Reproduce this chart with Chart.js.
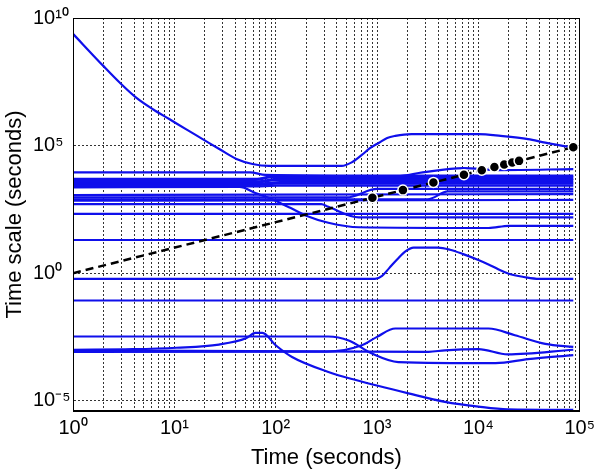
<!DOCTYPE html>
<html><head><meta charset="utf-8">
<script src="https://cdn.jsdelivr.net/npm/chart.js@4.4.1/dist/chart.umd.min.js"></script>
<style>html,body{margin:0;padding:0;background:#fff;}canvas{display:block;}</style>
</head><body>
<canvas id="c" width="600" height="475"></canvas>
<script>
// ---- tick labels ----
const xMajorTicks = [1, 10, 100, 1000, 10000, 100000];
const xTickLabels = ['10\u2070', '10\u00b9', '10\u00b2', '10\u00b3', '10\u2074', '10\u2075'];
const xMinorMultipliers = [2, 3, 4, 5, 6, 7, 8, 9];
const yTickValues = [1e-5, 1, 1e5, 1e10];
const yTickLabels = ['10\u207b\u2075', '10\u2070', '10\u2075', '10\u00b9\u2070'];

// ---- series: [time (s), time scale (s)] ----
const topCurve = [[1,2.4e9],[2,1.3e8],[2.9,2.9e7],[4.2,7.6e6],[6.2,2.6e6],[8.9,1.1e6],[13,4.4e5],[19,1.8e5],[28,7.2e4],[41,3.0e4],[59,1.9e4],[86,1.6e4],[447,1.6e4],[562,2.2e4],[708,4.3e4],[851,7.9e4],[1047,1.3e5],[1259,2.0e5],[1514,2.4e5],[2188,2.8e5],[10000,2.8e5],[16596,2.4e5],[30903,1.8e5],[45709,1.3e5],[75858,9.1e4],[86400,8.5e4]];
const wavyUpper = [[1,8900],[56,8900],[79,7100],[1585,6300],[2818,8900],[7079,13000],[15849,11000],[86400,12000]];
const band1 = [[1,5000],[63,5000],[100,6600],[86400,6600]];
const band2 = [[1,4500],[60,4500],[95,5800],[86400,5800]];
const band3 = [[1,4000],[66,4000],[105,5000],[86400,5000]];
const band4 = [[1,3500],[63,3500],[100,4400],[86400,4400]];
const band5 = [[1,3200],[70,3200],[110,3700],[86400,3700]];
const band6 = [[1,2800],[63,2800],[100,3200],[86400,3200]];
const band7 = [[1,2500],[63,2500],[100,2700],[86400,2700]];
const flat1200 = [[1,1150],[100,1200],[86400,1260]];
const riseA = [[1,930],[501,930],[1000,2000],[86400,2000]];
const riseB = [[1,790],[3162,790],[5012,1600],[86400,1600]];
const flat720 = [[1,690],[200,720],[86400,740]];
const descB = [[1,510],[282,510],[331,400],[661,155],[86400,155]];
const flat210 = [[1,210],[86400,210]];
const descA = [[1,2300],[44,2400],[63,1400],[91,810],[141,355],[200,178],[331,95],[661,63],[12589,59],[19953,72],[86400,72]];
const flat20 = [[1,20],[86400,20]];
const bump = [[1,0.6],[955,0.6],[1122,0.79],[1318,1.58],[1585,3.5],[1905,7.1],[2291,10],[3981,10],[5248,8.3],[7079,5.6],[10000,3.3],[12589,2.2],[15849,1.4],[19953,0.95],[28184,0.71],[39811,0.6],[86400,0.6]];
const flat085 = [[1,0.085],[86400,0.085]];
const lowA = [[1,3.3e-3],[331,3.3e-3],[525,2.3e-3],[891,7.1e-4],[1622,3.3e-4],[14791,3.0e-4],[30903,4.3e-4],[86400,6.2e-4]];
const lowB = [[1,8.3e-4],[316,8.5e-4],[708,1.5e-3],[1000,3.2e-3],[1514,6.8e-3],[12589,6.8e-3],[22909,3.7e-3],[45709,1.7e-3],[86400,1.3e-3]];
const lowC = [[1,9.5e-4],[3236,8.3e-4],[4677,9.5e-4],[10000,1.05e-3],[19498,6.6e-4],[86400,1.0e-3]];
const peak = [[1,1.0e-3],[3.9,1.05e-3],[10.5,1.2e-3],[27.5,1.6e-3],[51,2.8e-3],[63,4.6e-3],[74,4.6e-3],[100,1.5e-3],[145,5.2e-4],[331,1.35e-4],[617,6.5e-5],[2042,1.95e-5],[4677,9.1e-6],[10000,5.9e-6],[19498,4.6e-6],[86400,4.4e-6]];

const diagTimes = [1, 86400];
const diagScales = [1, 86400];
const markerTimes = [900, 1800, 3600, 7200, 10800, 14400, 18000, 21600, 25200, 86400];
const markerScales = [900, 1800, 3600, 7200, 10800, 14400, 18000, 21600, 25200, 86400];

// ---- build datasets ----
const toPts = a => a.map(p => ({x: p[0], y: p[1]}));
const zipPts = (xs, ys) => xs.map((x, i) => ({x: x, y: ys[i]}));
const blueSeries = [topCurve, wavyUpper, band1, band2, band3, band4, band5, band6, band7, flat1200, riseA, riseB, flat720, descB, flat210, descA, flat20, bump, flat085, lowA, lowB, lowC, peak];
const BLUE = 'rgb(15,15,235)';
const datasets = [
  {data: zipPts(markerTimes, markerScales), showLine: false, pointRadius: 5, pointBackgroundColor: '#000', pointBorderColor: '#fff', pointBorderWidth: 1.5, order: 0},
  {data: zipPts(diagTimes, diagScales), borderColor: '#000', borderWidth: 2.5, borderDash: [8, 5], pointRadius: 0, order: 1}
];
blueSeries.forEach(s => datasets.push({data: toPts(s), borderColor: BLUE, borderWidth: 2.2, pointRadius: 0, cubicInterpolationMode: 'monotone', order: 2}));

const xGridTicks = [];
xMajorTicks.forEach((m, i) => { xGridTicks.push(m); if (i < xMajorTicks.length - 1) xMinorMultipliers.forEach(k => xGridTicks.push(m * k)); });

const FONT = "'Liberation Sans', Arial, Helvetica, sans-serif";
const isMajor = v => Math.abs(Math.log10(v) - Math.round(Math.log10(v))) < 1e-9;

const boxPlugin = {
  id: 'box',
  afterDraw(chart) {
    const {ctx, chartArea: a} = chart;
    ctx.save();
    ctx.strokeStyle = '#000'; ctx.lineWidth = 1; ctx.setLineDash([]);
    ctx.strokeRect(Math.round(a.left) + 0.5, Math.round(a.top) + 0.5, Math.round(a.right - a.left) - 1, Math.round(a.bottom - a.top) - 1);
    ctx.restore();
  }
};

new Chart(document.getElementById('c'), {
  type: 'line',
  data: {datasets},
  plugins: [boxPlugin],
  options: {
    responsive: false, animation: false, devicePixelRatio: 1,
    layout: {padding: {left: 33, top: 17, right: 18, bottom: 0}},
    plugins: {legend: {display: false}, tooltip: {enabled: false}},
    scales: {
      x: {
        type: 'logarithmic', min: 1, max: 1e5, position: 'bottom',
        afterBuildTicks: s => { s.ticks = xGridTicks.map(v => ({value: v})); },
        afterFit: s => { s.height = 64; },
        ticks: {autoSkip: false, maxRotation: 0, minRotation: 0, padding: 5, color: '#000', font: {family: FONT, size: 20},
          callback: v => { if (!isMajor(v)) return ''; const i = xMajorTicks.indexOf(Math.round(v)); return i >= 0 ? xTickLabels[i] : ''; }},
        grid: {color: '#333', lineWidth: 1, drawTicks: false},
        border: {display: true, color: '#000', dash: [2, 2]},
        title: {display: true, text: 'Time (seconds)', color: '#000', font: {family: FONT, size: 22}, padding: {top: 0, bottom: 4}}
      },
      y: {
        type: 'logarithmic', min: 3.98e-6, max: 1e10, position: 'left',
        afterBuildTicks: s => { s.ticks = yTickValues.map(v => ({value: v})); },
        afterFit: s => { s.width = 40; },
        ticks: {autoSkip: false, crossAlign: 'far', padding: 6, color: '#000', font: {family: FONT, size: 20},
          callback: v => { let best = 0; yTickValues.forEach((t, i) => { if (Math.abs(Math.log10(t) - Math.log10(v)) < Math.abs(Math.log10(yTickValues[best]) - Math.log10(v))) best = i; }); return yTickLabels[best]; }},
        grid: {color: '#333', lineWidth: 1, drawTicks: false},
        border: {display: true, color: '#000', dash: [2, 2]},
        title: {display: true, text: 'Time scale (seconds)', color: '#000', font: {family: FONT, size: 22}, padding: {top: -31, bottom: 0}}
      }
    }
  }
});
</script>
</body></html>
